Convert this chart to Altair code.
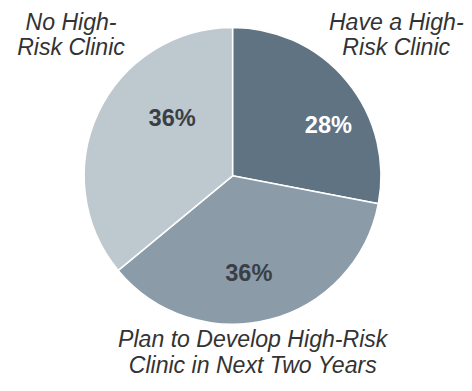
import math
import altair as alt
import pandas as pd

categories = ["Have a High-Risk Clinic", "Plan to Develop High-Risk Clinic in Next Two Years", "No High-Risk Clinic"]
values = [28, 36, 36]
pct_labels = ["28%", "36%", "36%"]
name_lines = [["Have a High-", "Risk Clinic"], ["Plan to Develop High-Risk", "Clinic in Next Two Years"], ["No High-", "Risk Clinic"]]
order = [0, 1, 2]
colors = ["#5f7383", "#8b9ba8", "#bec9cf"]
pct_colors = ["#ffffff", "#3a3f47", "#3a3f47"]

df = pd.DataFrame({
    "category": categories,
    "value": values,
    "pct": pct_labels,
    "name": name_lines,
    "order": order,
})

base = (
    alt.Chart(df)
    .transform_joinaggregate(total="sum(value)")
    .transform_window(cum="sum(value)", sort=[alt.SortField("order")], frame=[None, 0])
    .transform_calculate(
        start="(datum.cum - datum.value) / datum.total",
        end="datum.cum / datum.total",
        mid="(datum.cum - datum.value / 2) / datum.total",
    )
)
tscale = alt.Scale(domain=[0, 1], range=[0, 2 * math.pi])

pie = base.mark_arc(stroke="white", strokeWidth=1.5, outerRadius=151).encode(
    theta=alt.Theta("start:Q", scale=tscale),
    theta2="end:Q",
    color=alt.Color("category:N", scale=alt.Scale(domain=categories, range=colors), legend=None),
)

theta_mid = alt.Theta("mid:Q", scale=tscale)

layers = [pie]

pct_offsets = [(20.5, 13.3), (-8.4, 3.6), (29, -15)]
for i, cat in enumerate(categories):
    dx, dy = pct_offsets[i]
    layers.append(
        base.transform_filter(alt.datum.category == cat)
        .mark_text(radius=100, fontSize=24, fontWeight="bold", font="Liberation Sans",
                   color=pct_colors[i], dx=dx, dy=dy, align="center", baseline="middle")
        .encode(theta=theta_mid, text="pct:N")
    )

name_offsets = [(24, -37.6), (-25.5, -12), (3, -77)]
for i, cat in enumerate(categories):
    dx, dy = name_offsets[i]
    layers.append(
        base.transform_filter(alt.datum.category == cat)
        .mark_text(radius=185, fontSize=23.5, fontStyle="italic", font="Liberation Sans",
                   color="#333333", dx=dx, dy=dy, align="center", baseline="middle", lineHeight=26)
        .encode(theta=theta_mid, text="name")
    )

chart = alt.layer(*layers).properties(
    width=457,
    height=335,
    autosize=alt.AutoSizeParams(type="none"),
    padding={"left": 0, "top": 0, "right": 7, "bottom": 40},
).configure_view(stroke=None)

chart.save("out.html", embed_options={"renderer": "svg", "actions": False})
